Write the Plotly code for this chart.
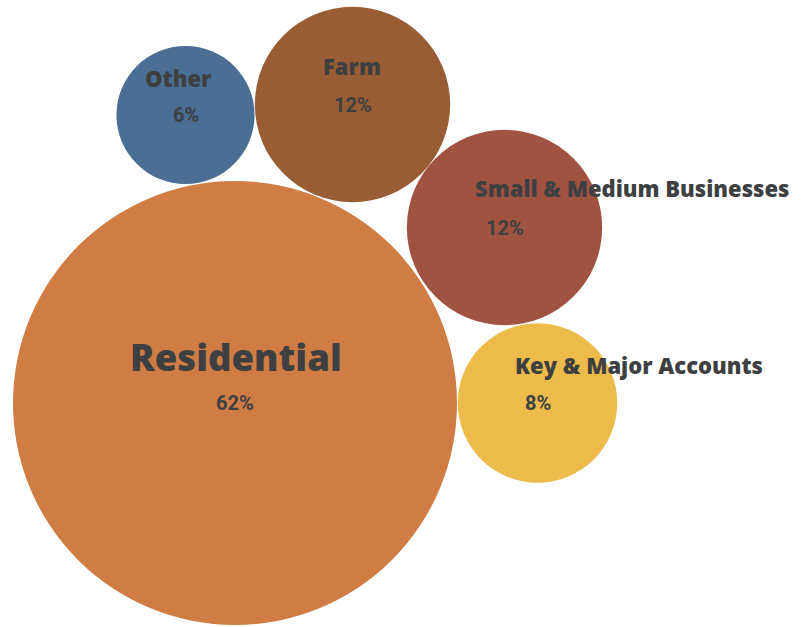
import math
import plotly.graph_objects as go

# Share of customers by segment
segments = ["Residential", "Other", "Farm", "Small & Medium Businesses", "Key & Major Accounts"]
shares = [62, 6, 12, 12, 8]
colors = ["#cf7d45", "#4a6e94", "#985d34", "#a05340", "#ecbb4a"]

# Packed layout: bubble centres (pixel space) and name-label placement
centers = [(235, 403), (185.5, 115), (352.5, 104.5), (504.5, 227.5), (537.5, 403)]
name_left = [128, 143, 321, 473, 513]
name_dy = [46, 37, 39, 40, 38]
name_size = [36.5, 22, 22, 22, 22]

W, H = 810, 627
# bubble area proportional to share
radius_per_sqrt = 222 / math.sqrt(62)

fig = go.Figure()

shapes = []
for share, color, (cx, cy) in zip(shares, colors, centers):
    r = radius_per_sqrt * math.sqrt(share)
    shapes.append(dict(
        type="circle", xref="x", yref="y",
        x0=cx - r, x1=cx + r, y0=cy - r, y1=cy + r,
        fillcolor=color, line=dict(width=0), layer="below",
    ))

text_color = "#3d3f41"
annotations = []
for name, share, (cx, cy), lx, dy, fs in zip(segments, shares, centers, name_left, name_dy, name_size):
    annotations.append(dict(
        x=lx, y=cy - dy, xref="x", yref="y", text=name, showarrow=False,
        xanchor="left", yanchor="middle",
        font=dict(family="Open Sans", size=fs, color=text_color, weight=800),
    ))
    annotations.append(dict(
        x=cx, y=cy, xref="x", yref="y", text=f"{share}%", showarrow=False,
        xanchor="center", yanchor="middle",
        font=dict(family="Liberation Sans Narrow, Roboto", size=20, color=text_color, weight="bold"),
    ))

# invisible trace so the axes are set up
fig.add_trace(go.Scatter(x=[0, W], y=[0, H], mode="markers",
                         marker=dict(opacity=0), hoverinfo="skip", showlegend=False))

fig.update_layout(
    width=W, height=H,
    margin=dict(l=0, r=0, t=0, b=0),
    paper_bgcolor="white", plot_bgcolor="white",
    shapes=shapes, annotations=annotations,
    xaxis=dict(range=[0, W], visible=False, fixedrange=True),
    yaxis=dict(range=[H, 0], visible=False, fixedrange=True),
    showlegend=False,
)

fig.write_html("out.html", config={"displayModeBar": False})
